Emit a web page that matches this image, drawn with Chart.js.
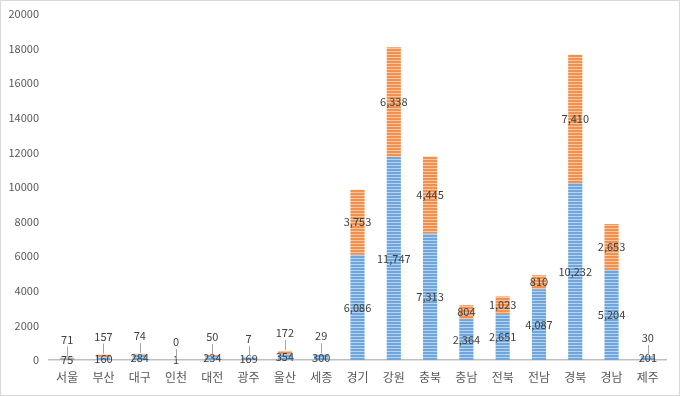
<!DOCTYPE html>
<html>
<head>
<meta charset="utf-8">
<script src="https://cdn.jsdelivr.net/npm/chart.js@4/dist/chart.umd.min.js"></script>
<style>
  html, body { margin: 0; padding: 0; background: #fff; }
  #wrap { position: relative; width: 678px; height: 394px; border: 1px solid #d9d9d9; }
</style>
</head>
<body>
<div id="wrap"><canvas id="chart"></canvas></div>
<script>
// regions and the two stacked series
var regions = ['서울', '부산', '대구', '인천', '대전', '광주', '울산', '세종', '경기', '강원', '충북', '충남', '전북', '전남', '경북', '경남', '제주'];
var lowerValues = [75, 160, 284, 1, 234, 169, 354, 300, 6086, 11747, 7313, 2364, 2651, 4087, 10232, 5204, 201];
var upperValues = [71, 157, 74, 0, 50, 7, 172, 29, 3753, 6338, 4445, 804, 1023, 810, 7410, 2653, 30];
var yTicks = [0, 2000, 4000, 6000, 8000, 10000, 12000, 14000, 16000, 18000, 20000];

var FONT = '"Noto Sans CJK KR", "Noto Sans", sans-serif';

// horizontal stripes like the Excel fill
function stripes(dark, light) {
    var c = document.createElement('canvas');
    c.width = 4; c.height = 3;
    var g = c.getContext('2d');
    g.fillStyle = light;
    g.fillRect(0, 0, 4, 3);
    g.fillStyle = dark;
    g.fillRect(0, 0, 4, 2);
    return g.createPattern(c, 'repeat');
}

// value labels: centred in each segment, small top segments pushed up with a leader line
var valueLabels = {
    id: 'valueLabels',
    afterDatasetsDraw: function(chart) {
        var ctx = chart.ctx;
        ctx.save();
        ctx.font = '11px ' + FONT;
        ctx.fillStyle = '#404040';
        ctx.textAlign = 'center';
        ctx.textBaseline = 'middle';
        chart.data.datasets.forEach(function(ds, di) {
            chart.getDatasetMeta(di).data.forEach(function(bar, i) {
                var text = ds.data[i].toLocaleString('en-US');
                var top = Math.min(bar.y, bar.base);
                var h = Math.abs(bar.base - bar.y);
                var y = (bar.y + bar.base) / 2;
                if (di === 1 && h < 10) {
                    y = top - 18;
                    ctx.strokeStyle = '#a6a6a6';
                    ctx.lineWidth = 1;
                    ctx.beginPath();
                    ctx.moveTo(Math.round(bar.x) + 0.5, y + 7);
                    ctx.lineTo(Math.round(bar.x) + 0.5, top - 1);
                    ctx.stroke();
                }
                ctx.fillText(text, bar.x, y);
            });
        });
        ctx.restore();
    }
};

var config = {
    type: 'bar',
    data: {
        labels: regions,
        datasets: [{
            data: lowerValues,
            backgroundColor: stripes('#6fa6dc', '#b7d3ef'),
            barPercentage: 0.39,
            categoryPercentage: 1
        }, {
            data: upperValues,
            backgroundColor: stripes('#f1914f', '#f9c6a0'),
            barPercentage: 0.39,
            categoryPercentage: 1
        }]
    },
    options: {
        responsive: true,
        maintainAspectRatio: false,
        animation: false,
        layout: { padding: { top: 0, right: 13, bottom: 5, left: 0 } },
        plugins: {
            legend: { display: false },
            tooltip: { enabled: false }
        },
        scales: {
            x: {
                stacked: true,
                grid: { display: false, drawTicks: false },
                border: { color: '#bfbfbf', width: 1.5 },
                ticks: { color: '#595959', font: { family: FONT, size: 12 }, padding: 10 },
                afterFit: function(scale) { scale.height = 30; }
            },
            y: {
                stacked: true,
                min: 0,
                max: 20000,
                afterBuildTicks: function(scale) {
                    scale.ticks = yTicks.map(function(v) { return { value: v }; });
                },
                grid: { display: false, drawTicks: false },
                border: { display: false },
                ticks: {
                    color: '#595959',
                    font: { family: FONT, size: 11, lineHeight: 0.5 },
                    padding: 10,
                    callback: function(v) { return String(v); }
                },
                afterFit: function(scale) {
                    scale.width = 48;
                    scale.paddingTop = 13;
                }
            }
        }
    },
    plugins: [valueLabels]
};

var ctx = document.getElementById('chart').getContext('2d');
window.regionChart = new Chart(ctx, config);
</script>
</body>
</html>
